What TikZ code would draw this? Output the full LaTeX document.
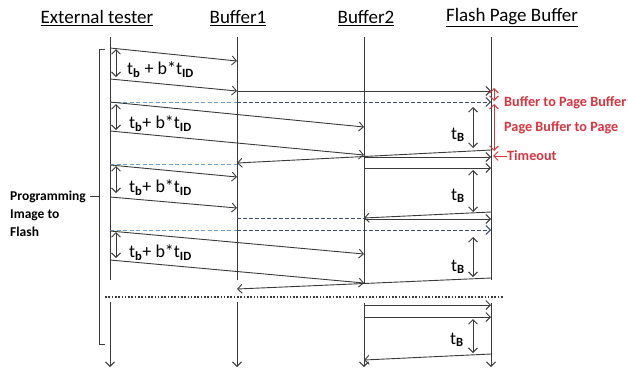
\documentclass[tikz,border=0pt]{standalone}
\usepackage{fontspec}
\setmainfont{Carlito}
\usetikzlibrary{arrows.meta}
\definecolor{lnc}{HTML}{3A3A3A}
\definecolor{lblue}{HTML}{6F9FD0}
\definecolor{dblue}{HTML}{3E4E66}
\definecolor{redc}{HTML}{D9343E}
\newcommand\sbb[1]{\textsubscript{\bfseries #1}}
\begin{document}
\begin{tikzpicture}[x=1pt,y=-1pt,
  >={Straight Barb[length=4.5pt,width=9pt]},
  life/.style={draw=lnc, line width=1pt},
  msg/.style={draw=lnc, line width=0.9pt, ->},
  dur/.style={draw=lnc, line width=0.9pt, <->},
  bdash/.style={draw=lblue, line width=0.9pt, dash pattern=on 4pt off 2.5pt},
  ddash/.style={draw=dblue, line width=1pt, dash pattern=on 4pt off 2pt},
  hdr/.style={font=\fontsize{19}{21}\selectfont, inner sep=0pt},
  lbl/.style={font=\fontsize{18}{20}\selectfont, anchor=west, inner sep=0pt},
  rtxt/.style={font=\fontsize{14.2}{16}\selectfont\bfseries, text=redc, anchor=west, inner sep=0pt},
  ptxt/.style={font=\fontsize{13.5}{18}\selectfont\bfseries, align=left, anchor=west, inner sep=0pt},
  rarr/.style={draw=redc, line width=0.9pt, <->}]
\useasboundingbox (0,0) rectangle (628,373);
% headers
\node[hdr] (hE) at (97,18) {\underline{External tester}};
\node[hdr] (hB) at (238,18) {\underline{Buffer1}};
\node[hdr] (hC) at (366,18) {\underline{Buffer2}};
\node[hdr] (hF) at (512,18) {\underline{Flash Page Buffer}};
% lifeline points
\foreach \y in {37,48,79,102,131,164,165,197,230,231,260,280,302,367} \coordinate (E\y) at (110,\y);
\foreach \y in {37,61,91,102,163,164,177,208,218,230,280,289,302,367} \coordinate (B\y) at (237,\y);
\foreach \y in {37,127,155,157,168,218,219,254,283,303,305,317,360,367} \coordinate (C\y) at (364,\y);
\foreach \y in {37,91,102,150,157,168,212,219,230,278,280,303,305,317,354,367} \coordinate (F\y) at (491,\y);
% lifelines
\draw[life] (E37) -- (E280); \draw[life,->] (E302) -- (E367);
\draw[life] (B37) -- (B280); \draw[life,->] (B302) -- (B367);
\draw[life] (C37) -- (C283); \draw[life,->] (C303) -- (C367);
\draw[life] (F37) -- (F280); \draw[life,->] (F303) -- (F367);
% dashed lines
\draw[bdash] (E102) -- (B102);
\draw[ddash,->] (B102) -- (F102);
\draw[bdash] (E164) -- (B164);
\draw[ddash] (B218) -- (C218);
\draw[bdash] (E230) -- (B230);
\draw[ddash,->] (B230) -- (F230);
% messages
\draw[msg] (E48) -- (B61);
\draw[msg] (E79) -- (B91);
\draw[msg] (B91) -- (F91);
\draw[msg] (E102) -- (C127);
\draw[msg] (E131) -- (C155);
\draw[msg] (F150) -- (B163);
\draw[msg] (C157) -- (F157);
\draw[msg] (C168) -- (F168);
\draw[msg] (E165) -- (B177);
\draw[msg] (E197) -- (B208);
\draw[msg] (F212) -- (C218);
\draw[msg] (C219) -- (F219);
\draw[msg] (E231) -- (C254);
\draw[msg] (E260) -- (C283);
\draw[msg] (F278) -- (B289);
\draw[msg] (C305) -- (F305);
\draw[msg] (C317) -- (F317);
\draw[msg] (F354) -- (C360);
% durations at tester
\coordinate (d1a) at (116,49); \coordinate (d1b) at (116,77);
\coordinate (d2a) at (116,104); \coordinate (d2b) at (116,130);
\coordinate (d3a) at (116,166); \coordinate (d3b) at (116,193);
\coordinate (d4a) at (116,232); \coordinate (d4b) at (116,258);
\draw[dur] (d1a) -- (d1b);
\draw[dur] (d2a) -- (d2b);
\draw[dur] (d3a) -- (d3b);
\draw[dur] (d4a) -- (d4b);
\node[lbl] (l1) at (127,70) {t\sbb{b} + b*t\sbb{ID}};
\node[lbl] (l2) at (129,124) {t\sbb{b}+ b*t\sbb{ID}};
\node[lbl] (l3) at (129,188) {t\sbb{b}+ b*t\sbb{ID}};
\node[lbl] (l4) at (129,253) {t\sbb{b}+ b*t\sbb{ID}};
% tB durations
\coordinate (t1a) at (473,107); \coordinate (t1b) at (473,148);
\coordinate (t2a) at (473,170); \coordinate (t2b) at (473,212);
\coordinate (t3a) at (473,237); \coordinate (t3b) at (473,277);
\coordinate (t4a) at (473,319); \coordinate (t4b) at (473,353);
\draw[dur] (t1a) -- (t1b);
\draw[dur] (t2a) -- (t2b);
\draw[dur] (t3a) -- (t3b);
\draw[dur] (t4a) -- (t4b);
\node[lbl] (b1) at (451,135) {t\sbb{B}};
\node[lbl] (b2) at (451,196) {t\sbb{B}};
\node[lbl] (b3) at (451,267) {t\sbb{B}};
\node[lbl] (b4) at (450,340) {t\sbb{B}};
% red annotations
\coordinate (r1a) at (494,88); \coordinate (r1b) at (494,101);
\coordinate (r2a) at (494,104); \coordinate (r2b) at (494,151);
\draw[rarr] (r1a) -- (r1b);
\draw[rarr] (r2a) -- (r2b);
\node[rtxt] (rt1) at (504,103) {Buffer to Page Buffer};
\node[rtxt] (rt2) at (504,128) {Page Buffer to Page};
\node[rtxt] (rt3) at (507,156) {Timeout};
\coordinate (r3) at (493,156);
\draw[draw=redc, line width=0.9pt, ->] (rt3.west) -- (r3);
% bracket
\coordinate (k1) at (105,49); \coordinate (k2) at (99,49);
\coordinate (k3) at (99,344); \coordinate (k4) at (105,344);
\coordinate (k5) at (99,196); \coordinate (k6) at (90,196);
\draw[lnc, line width=1pt] (k1) -- (k2) -- (k3) -- (k4);
\draw[lnc, line width=1pt] (k6) -- (k5);
\node[ptxt] (prog) at (10,214) {Programming\\Image to\\Flash};
% dotted separator
\coordinate (dt1) at (105,297); \coordinate (dt2) at (504,297);
\draw[lnc, line width=1.6pt, dash pattern=on 1.6pt off 1.7pt] (dt1) -- (dt2);
\end{tikzpicture}
\end{document}
